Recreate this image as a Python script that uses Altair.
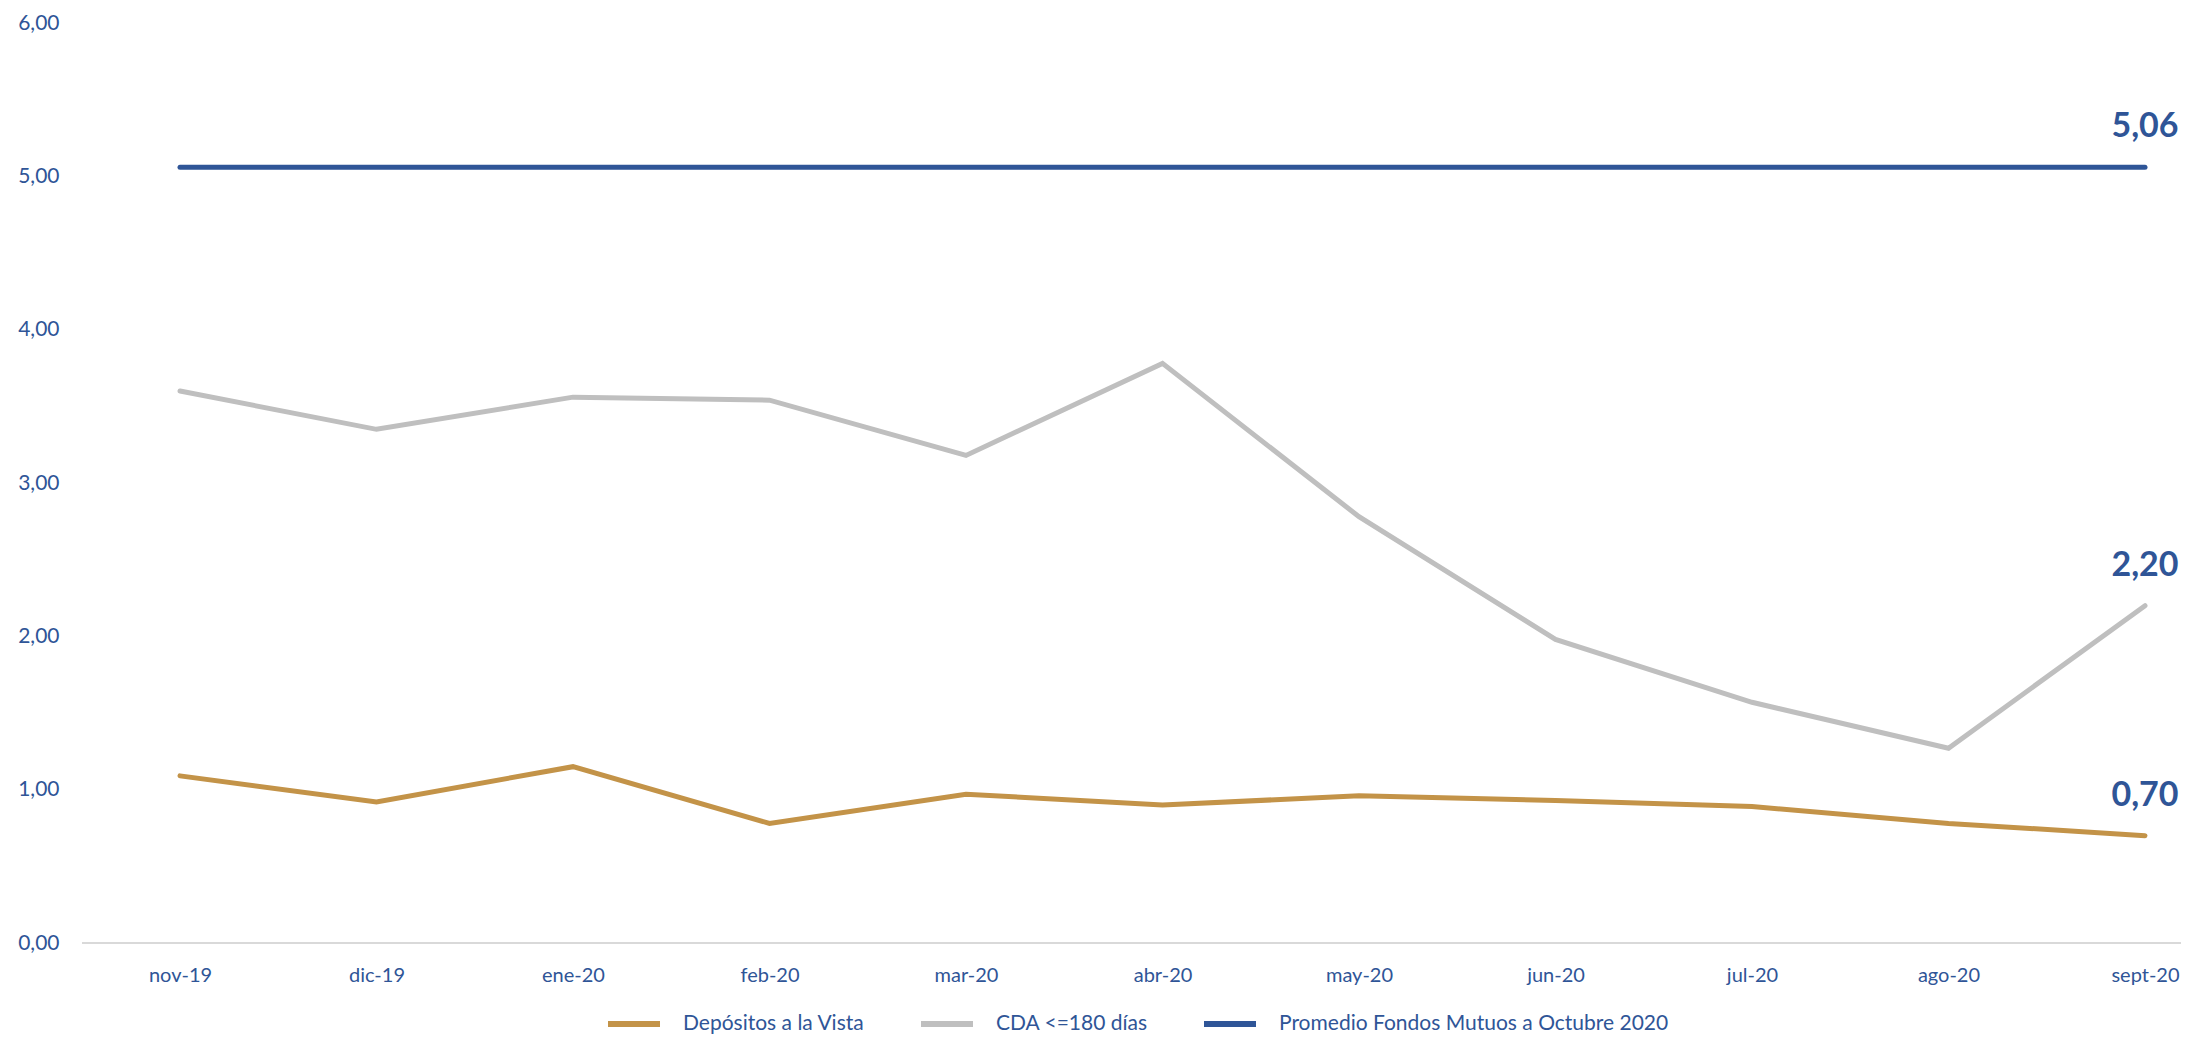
import altair as alt
import pandas as pd

months = ["nov-19", "dic-19", "ene-20", "feb-20", "mar-20", "abr-20",
          "may-20", "jun-20", "jul-20", "ago-20", "sept-20"]
series_names = ["Depósitos a la Vista", "CDA <=180 días",
                "Promedio Fondos Mutuos a Octubre 2020"]
depositos = [1.09, 0.92, 1.15, 0.78, 0.97, 0.90, 0.96, 0.93, 0.89, 0.78, 0.70]
cda = [3.60, 3.35, 3.56, 3.54, 3.18, 3.78, 2.78, 1.98, 1.57, 1.27, 2.20]
fondos = [5.06, 5.06, 5.06, 5.06, 5.06, 5.06, 5.06, 5.06, 5.06, 5.06, 5.06]
colors = ["#C39348", "#BFBFBF", "#2F5597"]
y_ticks = [0, 1, 2, 3, 4, 5, 6]

rows = []
for name, vals in zip(series_names, [depositos, cda, fondos]):
    for i, (m, v) in enumerate(zip(months, vals)):
        rows.append({"mes": m, "idx": i, "serie": name, "valor": v})
df = pd.DataFrame(rows)

W = 2091
H = 920
BLUE = "#2F5597"
FONT = "Lato"
fmt = "replace(format(datum.value, '.2f'), '.', ',')"

x_enc = alt.X("mes:N", sort=months,
              scale=alt.Scale(type="point", range=[98, 2063], padding=0),
              axis=alt.Axis(title=None, domain=False, ticks=False, labelAngle=0,
                            labelPadding=22, labelFontSize=20, labelColor=BLUE,
                            labelFont=FONT))
y_enc = alt.Y("valor:Q", scale=alt.Scale(domain=[0, 6], nice=False, zero=True),
              axis=alt.Axis(title=None, values=y_ticks, labelExpr=fmt, domain=False,
                            ticks=False, grid=False, labelPadding=23,
                            labelFontSize=21, labelColor=BLUE, labelFont=FONT))

baseline = alt.Chart(pd.DataFrame({"valor": [0]})).mark_rule(
    color="#D9D9D9", strokeWidth=2
).encode(y="valor:Q", x=alt.value(0), x2=alt.value(W + 8))

lines = alt.Chart(df).mark_line(strokeWidth=5, strokeCap="round").encode(
    x=x_enc,
    y=y_enc,
    order=alt.Order("idx:Q"),
    color=alt.Color("serie:N", scale=alt.Scale(domain=series_names, range=colors),
                    legend=alt.Legend(title=None, orient="none", legendX=523,
                                      legendY=972, direction="horizontal",
                                      symbolType="stroke", symbolStrokeWidth=6,
                                      symbolSize=2704, labelFontSize=21,
                                      labelColor=BLUE, labelFont=FONT,
                                      labelOffset=20, columnPadding=44,
                                      labelLimit=0, padding=0)),
)

labels = alt.Chart(df).transform_filter(
    alt.datum.mes == months[-1]
).transform_calculate(
    label="replace(format(datum.valor, '.2f'), '.', ',')"
).mark_text(fontSize=34, fontWeight="bold", color=BLUE, dy=-30,
            baseline="alphabetic", align="center", font=FONT).encode(
    x=alt.X("mes:N", sort=months), y="valor:Q", text="label:N"
)

chart = alt.layer(baseline, lines, labels).properties(
    width=W, height=H,
    background="white",
    autosize=alt.AutoSizeParams(type="none"),
    padding={"left": 74, "top": 15, "right": 8, "bottom": 91},
).configure_view(stroke=None)

chart.save("out.html", embed_options={"renderer": "svg", "actions": False})
